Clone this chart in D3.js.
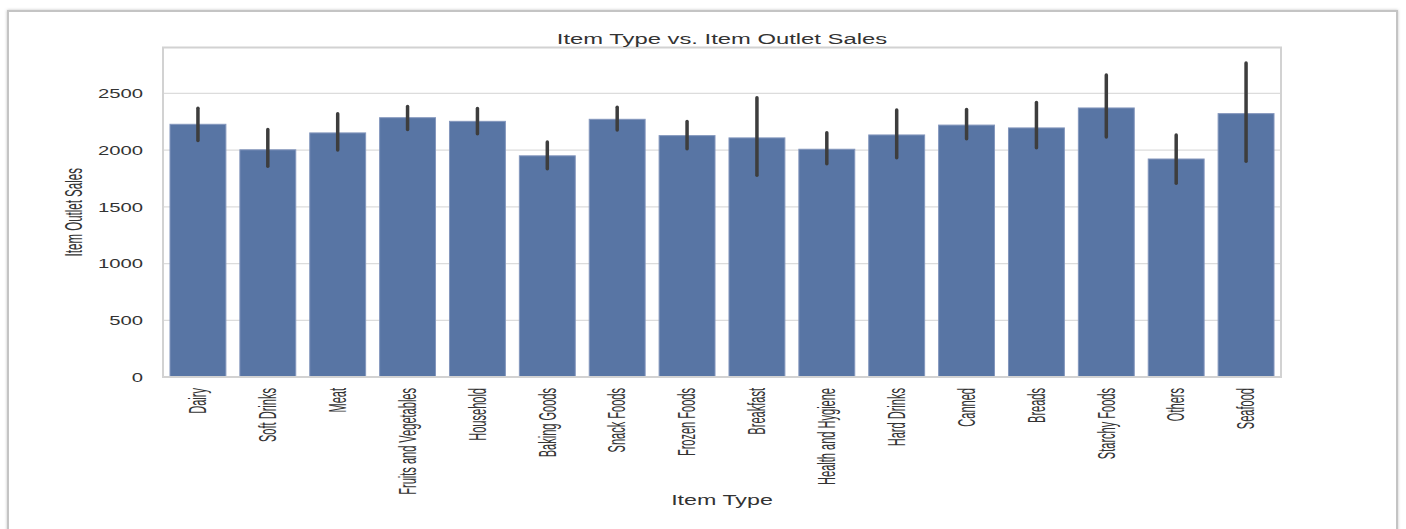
<!DOCTYPE html>
<html>
<head>
<meta charset="utf-8">
<script src="https://cdn.jsdelivr.net/npm/d3@7"></script>
<style>
	body { margin: 0; background: #fff; }
	text { font-family: "Liberation Sans", Arial, sans-serif; fill: #333; }
</style>
</head>
<body>
<div id="chart"></div>
<script>
// values (mean and 95% CI of Item Outlet Sales)
const categories = ["Dairy", "Soft Drinks", "Meat", "Fruits and Vegetables", "Household", "Baking Goods",
	"Snack Foods", "Frozen Foods", "Breakfast", "Health and Hygiene", "Hard Drinks", "Canned",
	"Breads", "Starchy Foods", "Others", "Seafood"]
const meanSales = [2228, 2003, 2152, 2286, 2254, 1950, 2272, 2128, 2108, 2008, 2134, 2221, 2196, 2372, 1922, 2322]
const ciLow  = [2084, 1858, 2002, 2183, 2145, 1835, 2177, 2013, 1779, 1879, 1934, 2101, 2022, 2116, 1709, 1902]
const ciHigh = [2370, 2183, 2320, 2385, 2367, 2072, 2379, 2253, 2463, 2154, 2353, 2358, 2420, 2662, 2134, 2768]
const yTicks = [0, 500, 1000, 1500, 2000, 2500]
const yMax = 2905

const rows = categories.map((c, i) => ({ cat: c, mean: meanSales[i], lo: ciLow[i], hi: ciHigh[i] }))

const svgWidth = 1406, svgHeight = 529
const margin = { left: 163, right: 125, top: 47.5, bottom: 152 }
const width = svgWidth - margin.left - margin.right,
	height = svgHeight - margin.top - margin.bottom

// stretch text along its own direction (the picture is not uniformly scaled)
function stretch(sel, k) {
	sel.each(function() {
		const n = this.getComputedTextLength()
		d3.select(this).attr("textLength", n * k).attr("lengthAdjust", "spacingAndGlyphs")
	})
}

let svg = d3.select("#chart").append("svg")
	.attr("width", svgWidth)
	.attr("height", svgHeight)

let defs = svg.append("defs")
let f = defs.append("filter").attr("id", "shadow").attr("x", "-5%").attr("y", "-5%").attr("width", "110%").attr("height", "110%")
f.append("feDropShadow").attr("dx", 0).attr("dy", 0).attr("stdDeviation", 1.5).attr("flood-color", "#999").attr("flood-opacity", 0.6)

// outer frame
svg.append("rect")
	.attr("x", 8).attr("y", 11)
	.attr("width", 1389).attr("height", 540)
	.attr("fill", "#fff")
	.attr("stroke", "#c4c4c4")
	.attr("stroke-width", 2)
	.attr("filter", "url(#shadow)")

let g = svg.append("g")
	.attr("transform", "translate(" + margin.left + ", " + margin.top + ")")

var x = d3.scaleBand()
	.domain(categories)
	.range([0, width])
	.paddingInner(0.2)
	.paddingOuter(0.1)

var y = d3.scaleLinear()
	.domain([0, yMax])
	.range([height, 0])

// grid
g.selectAll("line.grid")
	.data(yTicks)
	.enter()
	.append("line")
	.attr("class", "grid")
	.attr("x1", 0).attr("x2", width)
	.attr("y1", d => y(d)).attr("y2", d => y(d))
	.attr("stroke", "#dcdcdc")
	.attr("stroke-width", 1.3)

// bars
g.selectAll("rect.bar")
	.data(rows)
	.enter()
	.append("rect")
	.attr("class", "bar")
	.attr("x", d => x(d.cat))
	.attr("y", d => y(d.mean))
	.attr("width", x.bandwidth())
	.attr("height", d => height - y(d.mean))
	.attr("fill", "#5875a4")
	.attr("stroke", "#8497bd")
	.attr("stroke-width", 1)

// error bars
g.selectAll("line.err")
	.data(rows)
	.enter()
	.append("line")
	.attr("class", "err")
	.attr("x1", d => x(d.cat) + x.bandwidth() / 2)
	.attr("x2", d => x(d.cat) + x.bandwidth() / 2)
	.attr("y1", d => y(d.lo))
	.attr("y2", d => y(d.hi))
	.attr("stroke", "#3d3d3d")
	.attr("stroke-width", 3.5)
	.attr("stroke-linecap", "round")

// frame of the axes
g.append("rect")
	.attr("x", 0).attr("y", 0)
	.attr("width", width).attr("height", height)
	.attr("fill", "none")
	.attr("stroke", "#d2d2d2")
	.attr("stroke-width", 2)

// y axis
var yAxisCall = d3.axisLeft(y).tickValues(yTicks).tickFormat(d3.format("d")).tickSize(0).tickPadding(20)
let yAxis = g.append("g")
	.attr("class", "y axis")
	.call(yAxisCall)
yAxis.select(".domain").remove()
yAxis.selectAll("text")
	.attr("font-family", null)
	.attr("font-size", "13.5px")
	.attr("fill", "#333")
	.call(stretch, 1.5)

// x axis labels
let xLabels = g.append("g").attr("class", "x axis")
xLabels.selectAll("text")
	.data(categories)
	.enter()
	.append("text")
	.attr("transform", d => "translate(" + (x(d) + x.bandwidth() / 2) + "," + (height + 11) + ") rotate(-90)")
	.attr("dy", "0.36em")
	.attr("text-anchor", "end")
	.attr("font-size", "23px")
	.text(d => d)
	.call(stretch, 0.48)

// labels
g.append("text")
	.attr("x", width / 2)
	.attr("y", -3.5)
	.attr("text-anchor", "middle")
	.attr("font-size", "14px")
	.attr("fill", "#262626")
	.text("Item Type vs. Item Outlet Sales")
	.call(stretch, 1.7)

g.append("text")
	.attr("x", width / 2)
	.attr("y", height + 128)
	.attr("text-anchor", "middle")
	.attr("font-size", "15px")
	.text("Item Type")
	.call(stretch, 1.55)

g.append("text")
	.attr("transform", "translate(" + (82 - margin.left) + "," + (height / 2) + ") rotate(-90)")
	.attr("text-anchor", "middle")
	.attr("font-size", "24px")
	.text("Item Outlet Sales")
	.call(stretch, 0.48)
</script>
</body>
</html>
